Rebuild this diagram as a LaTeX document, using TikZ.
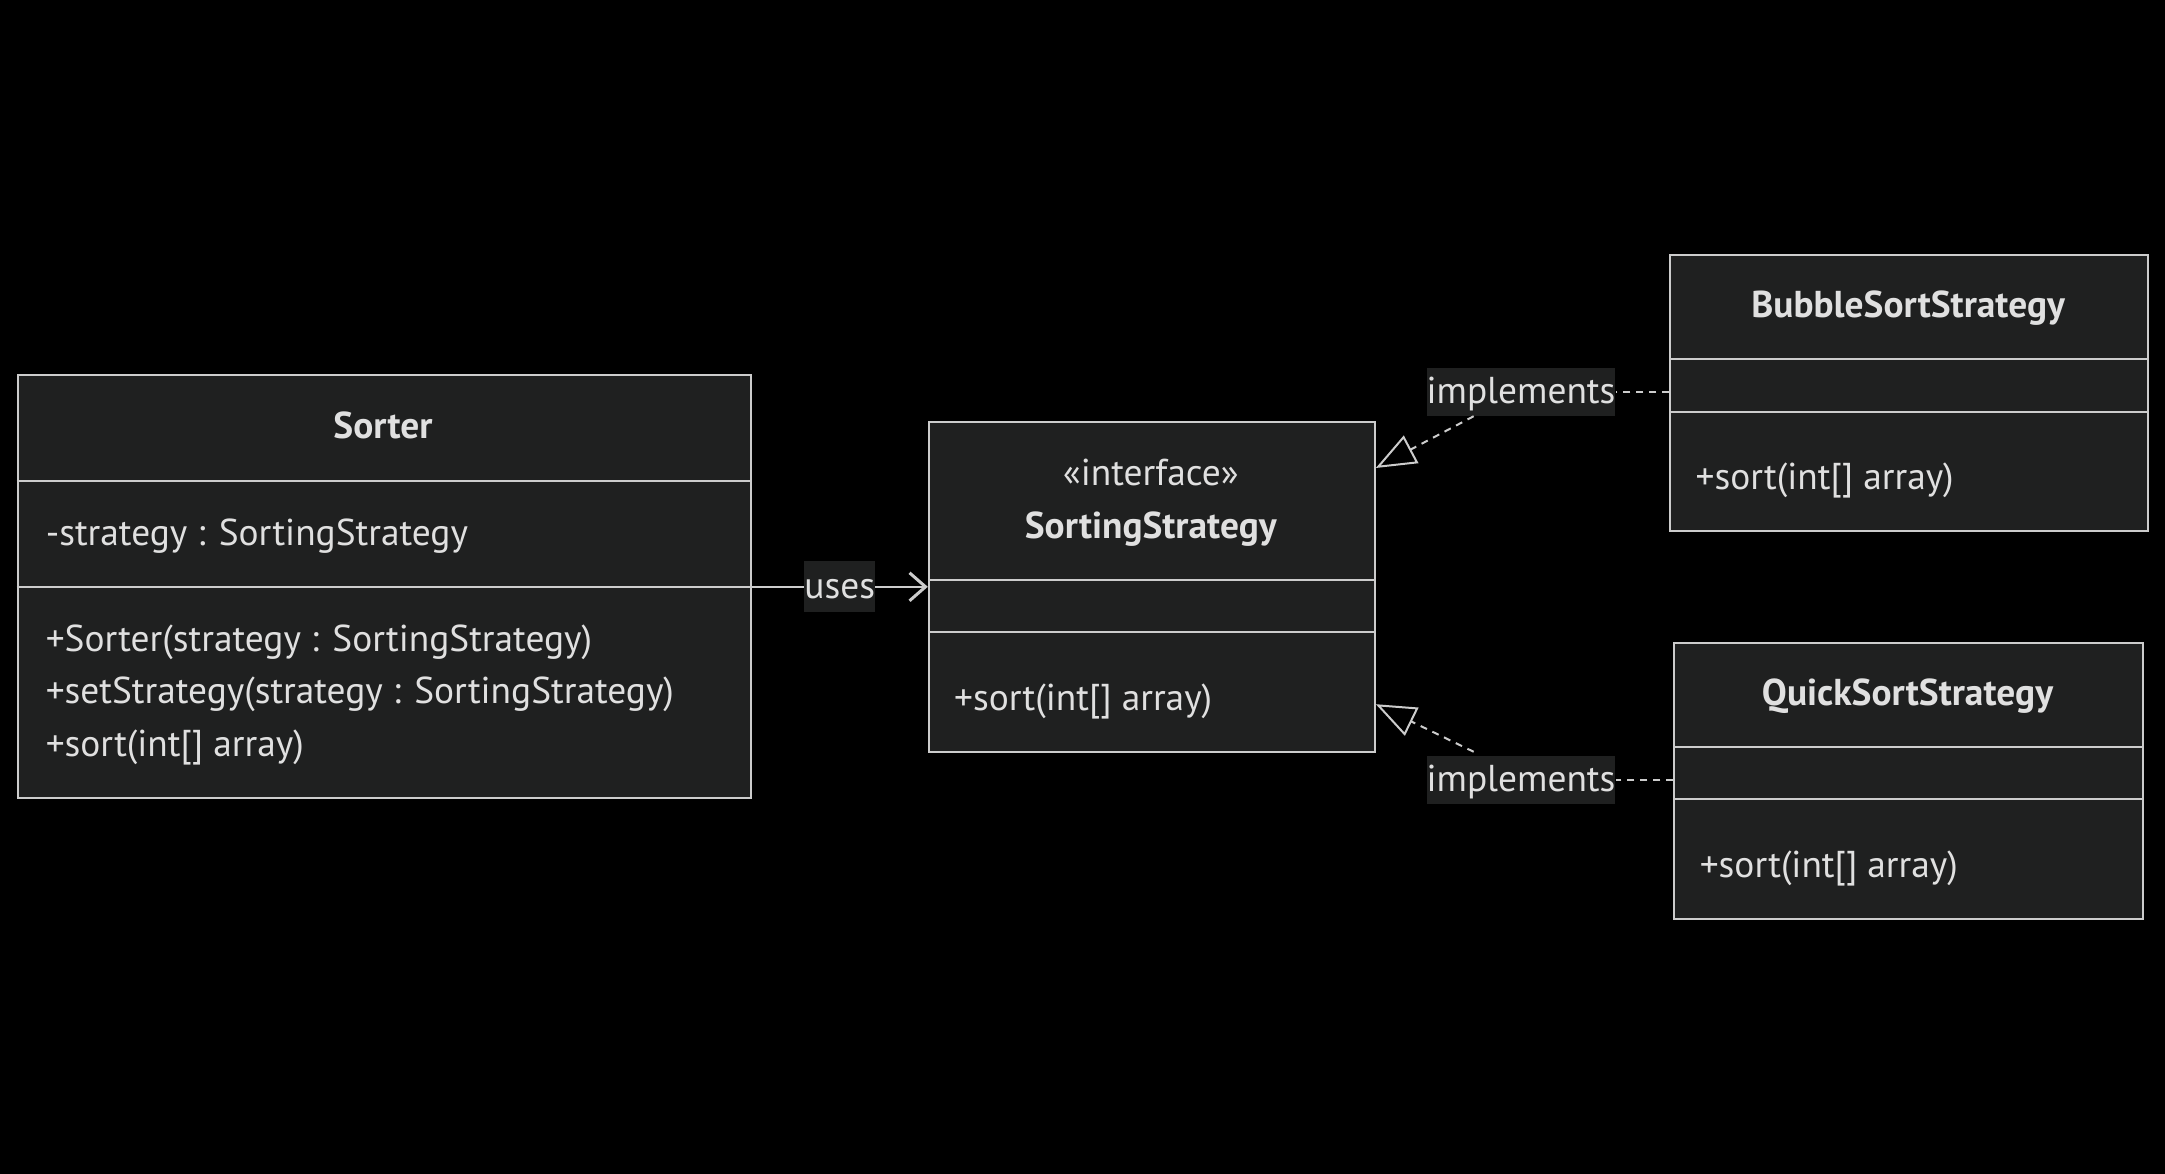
\documentclass[tikz,border=0pt]{standalone}
\usepackage{fontspec}
\setmainfont{PT Sans}
\usetikzlibrary{arrows.meta,calc}
\definecolor{boxfill}{HTML}{1F2020}
\definecolor{boxline}{HTML}{CCCCCC}
\definecolor{txt}{HTML}{E0E0E0}
\begin{document}
\begin{tikzpicture}[x=1pt,y=-1pt,
  umlbox/.style={draw=boxline, fill=boxfill, line width=2pt, rectangle, anchor=north west, inner sep=0pt},
  divider/.style={draw=boxline, line width=2pt},
  txtline/.style={text=txt, font=\fontsize{37.4}{44}\selectfont, inner sep=0pt, text height=27.5pt, text depth=9pt},
  titleline/.style={txtline, font=\fontsize{37.4}{44}\selectfont\bfseries},
  edgelabel/.style={fill=boxfill, text=txt, font=\fontsize{37.4}{44}\selectfont, inner sep=0pt, text height=31pt, text depth=8pt, minimum height=48pt},
  conn/.style={draw=boxline, line width=2pt},
  dashconn/.style={conn, dash pattern=on 7pt off 6pt},
  usestip/.style={-{Straight Barb[length=16pt, width=28pt, line width=3pt]}},
  realtip/.style={-{Triangle[open, length=40pt, width=31pt, line width=2pt]}}
]
\fill[black] (0,0) rectangle (2165,1174);
\useasboundingbox (0,0) rectangle (2165,1174);

% Sorter
\node[umlbox, minimum width=733pt, minimum height=422.5pt] (sorter) at (16.6,374.2) {};
\draw[divider] (sorter.west |- 0,480.5) -- (sorter.east |- 0,480.5);
\draw[divider] (sorter.west |- 0,586.8) -- (sorter.east |- 0,586.8);
\node[titleline] (sortertitle) at (383,429.6) {Sorter};
\node[txtline, anchor=west] (sorterattr) at (45.6,536) {-strategy : SortingStrategy};
\node[txtline, anchor=west] (sorterm1) at (45.6,642) {+Sorter(strategy : SortingStrategy)};
\node[txtline, anchor=west] (sorterm2) at (45.6,694.7) {+setStrategy(strategy : SortingStrategy)};
\node[txtline, anchor=west] (sorterm3) at (45.6,747.2) {+sort(int[] array)};

% SortingStrategy
\node[umlbox, minimum width=446pt, minimum height=330pt] (strat) at (927.8,421.1) {};
\draw[divider] (strat.west |- 0,579.9) -- (strat.east |- 0,579.9);
\draw[divider] (strat.west |- 0,632.4) -- (strat.east |- 0,632.4);
\node[txtline] (stratster) at (1150.8,476.6) {«interface»};
\node[titleline] (strattitle) at (1150.8,529) {SortingStrategy};
\node[txtline, anchor=west] (stratm1) at (954,701.6) {+sort(int[] array)};

% BubbleSortStrategy
\node[umlbox, minimum width=477.7pt, minimum height=276.2pt] (bubble) at (1669.3,254) {};
\draw[divider] (bubble.west |- 0,359) -- (bubble.east |- 0,359);
\draw[divider] (bubble.west |- 0,411.5) -- (bubble.east |- 0,411.5);
\node[titleline] (bubbletitle) at (1908.2,308) {BubbleSortStrategy};
\node[txtline, anchor=west] (bubblem1) at (1695.5,480.7) {+sort(int[] array)};

% QuickSortStrategy
\node[umlbox, minimum width=468.1pt, minimum height=276pt] (quick) at (1673.4,642) {};
\draw[divider] (quick.west |- 0,747) -- (quick.east |- 0,747);
\draw[divider] (quick.west |- 0,799.4) -- (quick.east |- 0,799.4);
\node[titleline] (quicktitle) at (1907.5,696) {QuickSortStrategy};
\node[txtline, anchor=west] (quickm1) at (1699.6,868.7) {+sort(int[] array)};

% uses
\draw[conn, usestip] (sorter.east |- 0,586.8) -- (strat.west |- 0,586.8)
  node[edgelabel, midway, minimum height=51pt] (useslbl) {uses};

% implements (Bubble)
\node[edgelabel] (impl1) at (1521,392) {implements};
\draw[dashconn] (bubble.west |- impl1) -- (impl1.east);
\coordinate (impl1s) at ($(impl1.south west)!0.25!(impl1.south east)$);
\coordinate (tip1) at (strat.east |- 0,468);
\draw[dashconn, realtip] (impl1s) -- (tip1);

% implements (Quick)
\node[edgelabel] (impl2) at (1521,780) {implements};
\draw[dashconn] (quick.west |- impl2) -- (impl2.east);
\coordinate (impl2n) at ($(impl2.north west)!0.25!(impl2.north east)+(0,-4)$);
\coordinate (tip2) at (strat.east |- 0,704.2);
\draw[dashconn, realtip] (impl2n) -- (tip2);
\end{tikzpicture}
\end{document}
